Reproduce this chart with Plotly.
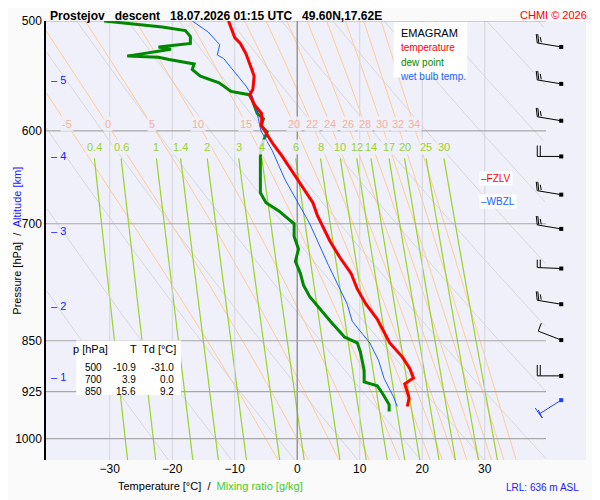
import numpy as np
import plotly.graph_objects as go

# ---------------- data ----------------
t_p = [500, 514, 519, 528, 543, 548, 560, 565, 574, 583, 595, 601, 609, 614, 626, 638, 649, 662, 676, 690, 700,
       720, 740, 760, 780, 800, 820, 840, 853, 873, 890, 904, 913, 925, 935, 948]
t_T = [-11.0, -10.0, -9.1, -8.2, -7.2, -6.9, -7.1, -7.6, -6.9, -5.7, -5.7, -5.1, -4.2, -3.8, -2.4, -1.2, 0.0,
       1.2, 2.5, 3.2, 3.9, 5.2, 6.8, 8.6, 9.6, 11.0, 12.8, 14.0, 14.8, 16.8, 18.0, 18.6, 17.2, 17.6, 17.9, 17.6]

d_p = [500, 505, 508, 513, 519, 522, 524, 530, 531, 533, 537, 542, 548, 554, 562, 565, 570, 583, 588, 595, 601,
       616, 626, 638, 650, 665, 676, 685, 700, 715, 730, 745, 760, 775, 790, 805, 823, 845, 853, 866, 878, 893,
       910, 916, 927, 945, 956]
d_T = [-30.9, -21.6, -17.9, -17.1, -17.1, -22.2, -20.2, -27.2, -22.2, -20.5, -16.5, -16.8, -15.5, -12.5, -10.6,
       -7.7, -7.2, -6.4, -5.4, -5.8, -4.8, -5.8, -5.9, -5.9, -5.9, -5.9, -5.0, -3.0, -0.5, -0.5, 0.2, -0.3, 0.5,
       1.0, 2.0, 3.5, 5.3, 7.6, 9.6, 10.1, 10.4, 10.7, 10.7, 12.8, 13.6, 14.7, 14.7]

w_p = [500, 509, 520, 529, 532, 540, 546, 557, 566, 583, 600, 620, 650, 675, 700, 750, 800, 823, 853, 878, 905,
       933, 948]
w_T = [-16.8, -14.3, -12.4, -12.8, -11.8, -10.6, -9.7, -8.2, -7.2, -6.4, -5.8, -4.0, -2.0, 0.0, 2.0, 5.0, 8.0,
       8.8, 11.6, 13.0, 13.9, 15.4, 16.0]

theta_w = [-5, 0, 5, 10, 15, 20, 22, 24, 26, 28, 30, 32, 34]
mix_ratios = [0.4, 0.6, 1, 1.4, 2, 3, 4, 6, 8, 10, 12, 14, 17, 20, 25, 30]
dry_theta = list(range(250, 460, 10))
p_ticks = [500, 600, 700, 850, 925, 1000]
t_ticks = [-30, -20, -10, 0, 10, 20, 30]
alt_km = [5, 4, 3, 2, 1]
alt_p = [551, 626, 708, 802, 902]
barb_p = [522, 555, 590, 626, 667, 706, 754, 800, 849, 901, 938]
table_rows = [("500", "-10.9", "-31.0"), ("700", "3.9", "0.0"), ("850", "15.6", "9.2")]

# ---------------- helpers ----------------
XMIN, XMAX, XGRID = -40.2, 46.2, 39.8
PBOT, PTOP = 1036, 500
pp = np.linspace(PBOT, PTOP, 200)
T0PX, PXC = 296, 6.25   # 0°C px, px per °C (reference image)
PXLN = 609              # px per ln(p)


def es(Tc):
    return 6.112 * np.exp(17.67 * Tc / (Tc + 243.5))


def moist(tw):
    Rd, cp, Lv, eps = 287.0, 1005.0, 2.5e6, 0.622

    def integ(p_arr, T0):
        T = T0 + 273.15
        out = [T]
        for i in range(1, len(p_arr)):
            p = p_arr[i - 1]
            Tc = T - 273.15
            rs = eps * es(Tc) / (p - es(Tc))
            num = (Rd * T + Lv * rs) / p
            den = cp + Lv * Lv * rs * eps / (Rd * T * T)
            T = T + num / den * (p_arr[i] - p)
            out.append(T)
        return np.array(out) - 273.15
    up_p = np.linspace(1000, PTOP, 300)
    dn_p = np.linspace(1000, 1045, 60)
    up = integ(up_p, tw)
    dn = integ(dn_p, tw)
    return np.concatenate([dn_p[::-1], up_p]), np.concatenate([dn[::-1], up])


def clipline(P, T):
    T = np.array(T, float)
    P = np.array(P, float)
    m = (T <= XGRID) & (T >= XMIN)
    return np.where(m, P, np.nan), np.where(m, T, np.nan)


def px2T(x):
    return (x - T0PX) / PXC


def dy2p(p, dy):
    return p * np.exp(dy / PXLN)


fig = go.Figure()

for th in dry_theta:
    T = th * (pp / 1000.0) ** 0.286 - 273.15
    P, T = clipline(pp, T)
    fig.add_trace(go.Scatter(x=T, y=P, mode="lines", line=dict(color="#d8d8de", width=1), hoverinfo="skip",
                             showlegend=False))
for tw in theta_w:
    P, T = moist(tw)
    P, T = clipline(P, T)
    fig.add_trace(go.Scatter(x=T, y=P, mode="lines", line=dict(color="#ffcc99", width=1), hoverinfo="skip",
                             showlegend=False))
    i = np.nanargmin(np.abs(P - 593))
    fig.add_annotation(x=T[i], y=np.log10(593), text=str(tw), showarrow=False,
                       font=dict(color="#f4b098", size=11), bgcolor="rgba(240,240,250,0.85)")
pm = np.linspace(PBOT, 628, 80)
for w in mix_ratios:
    e = w * pm / (622.0 + w)
    lnr = np.log(e / 6.112)
    T = 243.5 * lnr / (17.67 - lnr)
    P, T = clipline(pm, T)
    fig.add_trace(go.Scatter(x=T, y=P, mode="lines", line=dict(color="#99d22a", width=1.2), hoverinfo="skip",
                             showlegend=False))
    e0 = w * 628 / (622.0 + w)
    l0 = np.log(e0 / 6.112)
    fig.add_annotation(x=243.5 * l0 / (17.67 - l0), y=np.log10(616), text=str(w), showarrow=False,
                       font=dict(color="#99d22a", size=11), bgcolor="rgba(240,240,250,0.85)")

for t in t_ticks:
    fig.add_trace(go.Scatter(x=[t, t], y=[PBOT, PTOP], mode="lines",
                             line=dict(color="#909090" if t == 0 else "#d4d4dc", width=1.4 if t == 0 else 1),
                             hoverinfo="skip", showlegend=False))
for p in p_ticks:
    fig.add_trace(go.Scatter(x=[XMIN, XGRID], y=[p, p], mode="lines", line=dict(color="#a8a8a8", width=1.2),
                             hoverinfo="skip", showlegend=False))

fig.add_trace(go.Scatter(x=d_T, y=d_p, mode="lines", line=dict(color="#008800", width=3), showlegend=False))
fig.add_trace(go.Scatter(x=w_T, y=w_p, mode="lines", line=dict(color="#2060ff", width=1), showlegend=False))
fig.add_trace(go.Scatter(x=t_T, y=t_p, mode="lines", line=dict(color="#ff0000", width=3), showlegend=False))

for i, p in enumerate(barb_p):
    dot = 560
    if i == len(barb_p) - 1:
        col = "#2040ff"
        pts = [(dot, 0), (538, 14), (534, 8), None, (538, 14), (541, 18), (537, 10), None]
    elif i == 8:
        col = "black"
        pts = [(dot, 0), (537, -9), (540, -17), None]
    elif i in (3, 6, 9):
        col = "black"
        pts = [(dot, 0), (536, 0), (536, -11), None, (539, 0), (539, -11), None] if i != 6 else \
              [(dot, 0), (536, -1), (536, -9), None, (539, -1), (539, -9), None]
    else:
        col = "black"
        pts = [(dot, 0), (536, -4), (535, -13), None, (537.5, -4.3), (536.5, -13), None, (540, -4.6),
               (539, -10), None]
    xs, ys = [], []
    for q in pts:
        if q is None:
            xs.append(None)
            ys.append(None)
        else:
            xs.append(px2T(q[0]))
            ys.append(dy2p(p, q[1]))
    fig.add_trace(go.Scatter(x=xs, y=ys, mode="lines", line=dict(color=col, width=1), showlegend=False,
                             hoverinfo="skip"))
    fig.add_trace(go.Scatter(x=[px2T(dot)], y=[p], mode="markers",
                             marker=dict(color=col, size=4, symbol="square"), showlegend=False))

for k, p in zip(alt_km, alt_p):
    fig.add_annotation(xref="paper", x=0.006, y=np.log10(p), text="\u2013 " + str(k), showarrow=False,
                       xanchor="left", font=dict(color="#2020ff", size=11))

fig.add_annotation(x=px2T(478), y=np.log10(649), text="\u2013FZLV", showarrow=False, xanchor="left",
                   font=dict(color="#ff0000", size=10), bgcolor="white")
fig.add_annotation(x=px2T(478), y=np.log10(675), text="\u2013WBZL", showarrow=False, xanchor="left",
                   font=dict(color="#2060ff", size=10), bgcolor="white")

fig.add_shape(type="rect", xref="paper", yref="paper", x0=0.644, x1=0.78, y0=0.872, y1=0.997,
              fillcolor="white", line=dict(width=0))
fig.add_annotation(xref="paper", yref="paper", x=0.652, y=0.99, xanchor="left", yanchor="top", showarrow=False,
                   align="left",
                   text="EMAGRAM<br><span style='font-size:10px;color:#ff0000'>temperature</span><br>"
                        "<span style='font-size:10px;color:#008800'>dew point</span><br>"
                        "<span style='font-size:10px;color:#2060ff'>wet bulb temp.</span>",
                   font=dict(size=11, color="black"))

fig.add_shape(type="rect", xref="paper", yref="paper", x0=0.056, x1=0.25, y0=0.148, y1=0.272,
              fillcolor="white", line=dict(width=0))
for xx, s in zip([0.118, 0.172, 0.245], ["p [hPa]", "T", "Td [°C]"]):
    fig.add_annotation(xref="paper", yref="paper", x=xx, y=0.27, xanchor="right", yanchor="top",
                       showarrow=False, text=s, font=dict(size=11, color="black"))
for j, (a, b, c) in enumerate(table_rows):
    yy = 0.228 - j * 0.027
    for xx, s in zip([0.107, 0.17, 0.241], [a, b, c]):
        fig.add_annotation(xref="paper", yref="paper", x=xx, y=yy, xanchor="right", yanchor="top",
                           showarrow=False, text=s, font=dict(size=10, color="black"))

fig.add_annotation(xref="paper", yref="paper", x=0.005, y=1.0, yanchor="top", xanchor="left", showarrow=False,
                   yshift=13, borderpad=0,
                   text="<b>Prostejov   descent   18.07.2026 01:15 UTC   49.60N,17.62E</b>",
                   font=dict(size=12, color="black"))
fig.add_annotation(xref="paper", yref="paper", x=1.004, y=1.0, yanchor="top", xanchor="right", showarrow=False,
                   yshift=13, borderpad=0, text="CHMI © 2026", font=dict(size=11, color="#ff0000"))
fig.add_annotation(xref="paper", yref="paper", x=0.305, y=-0.04, yanchor="top", xanchor="center", showarrow=False,
                   text="Temperature [°C]  /  <span style='color:#44cc22'>Mixing ratio [g/kg]</span>",
                   font=dict(size=11, color="black"))
fig.add_annotation(xref="paper", yref="paper", x=0.99, y=-0.045, yanchor="top", xanchor="right", showarrow=False,
                   text="LRL: 636 m ASL", font=dict(size=10, color="#2020ff"))
fig.add_annotation(xref="paper", yref="paper", x=-0.07, y=0.5, textangle=-90, showarrow=False,
                   text="Pressure [hPa]  /  <span style='color:#2020ff'>Altitude [km]</span>",
                   font=dict(size=11, color="black"))

fig.update_layout(
    width=600, height=500, margin=dict(l=38, r=22, t=13, b=48),
    paper_bgcolor="#fafafa", plot_bgcolor="#f0f0fa",
    font=dict(family="Liberation Sans, Arial, sans-serif", size=12, color="black"),
    xaxis=dict(range=[XMIN, XMAX], tickvals=t_ticks, showgrid=False, zeroline=False, ticks="",
               showline=False, tickfont=dict(size=12), automargin=False),
    yaxis=dict(type="log", range=[np.log10(PBOT), np.log10(PTOP)], tickvals=p_ticks,
               ticktext=[str(p) for p in p_ticks], showgrid=False, zeroline=False, ticks="",
               showline=True, linecolor="black", linewidth=1.5, tickfont=dict(size=12), automargin=False),
)
fig.write_html("out.html")
